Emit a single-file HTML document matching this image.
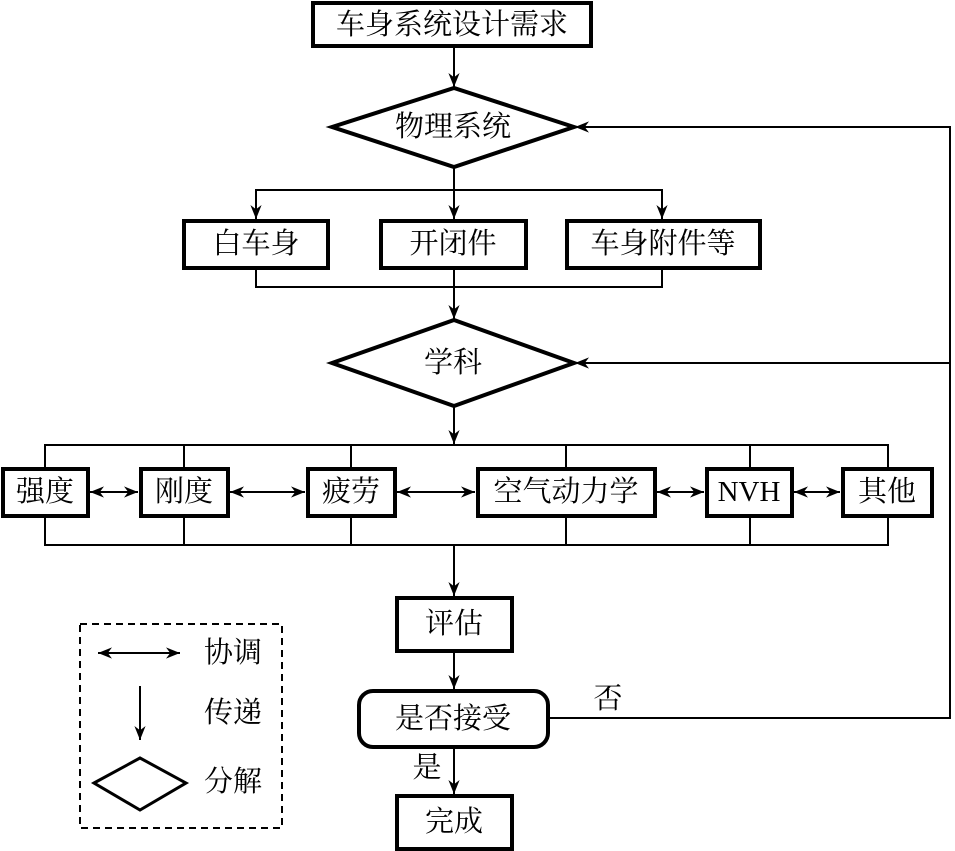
<!DOCTYPE html>
<html><head><meta charset="utf-8"><style>body{margin:0;background:#fff}svg{display:block}text{font-family:"Liberation Serif","Noto Serif CJK SC",serif;font-size:29px;fill:#000;text-anchor:middle;dominant-baseline:central}</style></head><body>
<svg width="955" height="851" viewBox="0 0 955 851">
<defs><marker id="a" viewBox="0 0 10 10" refX="10" refY="5" markerWidth="14" markerHeight="14" markerUnits="userSpaceOnUse" orient="auto-start-reverse"><path d="M0,1 L10,5 L0,9 L3,5z" fill="#000"/></marker></defs>
<g fill="none" stroke="#000" stroke-width="2">
<line x1="454" y1="46" x2="454" y2="87" marker-end="url(#a)"/>
<line x1="454" y1="167" x2="454" y2="190"/>
<polyline points="256,219 256,190 662,190 662,219"/>
<line x1="256" y1="190" x2="256" y2="219" marker-end="url(#a)"/>
<line x1="454" y1="190" x2="454" y2="219" marker-end="url(#a)"/>
<line x1="662" y1="190" x2="662" y2="219" marker-end="url(#a)"/>
<polyline points="256,268 256,287 662,287 662,268"/>
<line x1="454" y1="268" x2="454" y2="319" marker-end="url(#a)"/>
<line x1="454" y1="406" x2="454" y2="444" marker-end="url(#a)"/>
<rect x="45" y="445" width="843" height="100"/>
<line x1="184" y1="445" x2="184" y2="545"/><line x1="351" y1="445" x2="351" y2="545"/><line x1="566" y1="445" x2="566" y2="545"/><line x1="750" y1="445" x2="750" y2="545"/>
<line x1="454" y1="545" x2="454" y2="596" marker-end="url(#a)"/>
<line x1="454" y1="651" x2="454" y2="689" marker-end="url(#a)"/>
<line x1="454" y1="747" x2="454" y2="794" marker-end="url(#a)"/>
<polyline points="548,718 950,718 950,127 575,127" marker-end="url(#a)"/>
<line x1="950" y1="363" x2="575" y2="363" marker-end="url(#a)"/>
<line x1="90" y1="492" x2="138" y2="492" marker-start="url(#a)" marker-end="url(#a)"/>
<line x1="230" y1="492" x2="305" y2="492" marker-start="url(#a)" marker-end="url(#a)"/>
<line x1="397" y1="492" x2="475" y2="492" marker-start="url(#a)" marker-end="url(#a)"/>
<line x1="657" y1="492" x2="704" y2="492" marker-start="url(#a)" marker-end="url(#a)"/>
<line x1="794" y1="492" x2="840" y2="492" marker-start="url(#a)" marker-end="url(#a)"/>
<rect x="80" y="624" width="202" height="204" stroke-dasharray="7,5"/>
<line x1="98" y1="653" x2="180" y2="653" marker-start="url(#a)" marker-end="url(#a)"/>
<line x1="140" y1="686" x2="140" y2="740" marker-end="url(#a)"/>
</g>
<g fill="#fff" stroke="#000" stroke-width="4">
<rect x="313" y="3" width="278" height="43"/>
<polygon points="332,127 454,88 574,127 454,167"/>
<rect x="184" y="221" width="144" height="47"/>
<rect x="381" y="221" width="145" height="47"/>
<rect x="567" y="221" width="193" height="47"/>
<polygon points="332,363 454,320 574,363 454,406"/>
<rect x="3" y="469" width="85" height="47"/>
<rect x="141" y="469" width="87" height="47"/>
<rect x="308" y="469" width="87" height="47"/>
<rect x="478" y="469" width="177" height="47"/>
<rect x="707" y="469" width="85" height="47"/>
<rect x="843" y="469" width="89" height="47"/>
<rect x="397" y="598" width="115" height="53"/>
<rect x="359" y="691" width="189" height="56" rx="14"/>
<rect x="397" y="796" width="115" height="53"/>
<polygon points="94,783 140,758 186,783 140,810" stroke-width="3"/>
</g>
<text x="452" y="25">车身系统设计需求</text>
<text x="453" y="127">物理系统</text>
<text x="256" y="244">白车身</text>
<text x="453" y="244">开闭件</text>
<text x="663" y="244">车身附件等</text>
<text x="453" y="363">学科</text>
<text x="45" y="492">强度</text>
<text x="184" y="492">刚度</text>
<text x="351" y="492">疲劳</text>
<text x="566" y="492">空气动力学</text>
<text x="749" y="492">NVH</text>
<text x="887" y="492">其他</text>
<text x="454" y="624">评估</text>
<text x="453" y="719">是否接受</text>
<text x="454" y="822">完成</text>
<text x="608" y="699">否</text>
<text x="427" y="768">是</text>
<text x="233" y="653">协调</text>
<text x="233" y="713">传递</text>
<text x="233" y="782">分解</text>
</svg>
</body></html>
